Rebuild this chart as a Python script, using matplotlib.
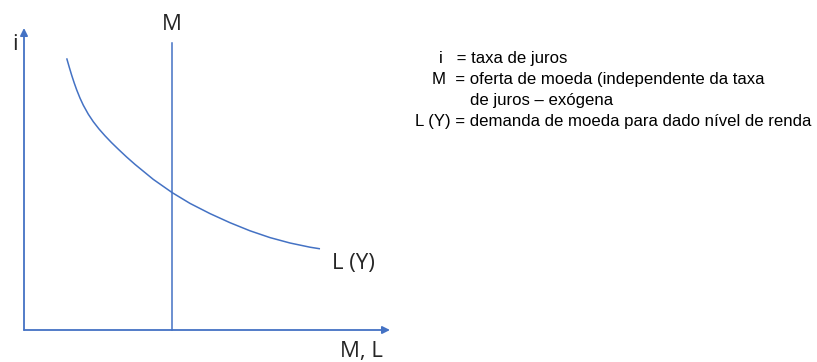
import matplotlib.pyplot as plt

# schematic units: origin of the i / (M, L) axes at (0, 0)
curve_x = [42.7, 45.2, 47.7, 50.2, 52.7, 56, 59.3, 64.3, 69.3, 75, 81, 87.5,
           94.3, 102.5, 111, 129.3, 148.3, 166, 186, 206, 226, 246, 266, 286,
           296]
curve_y = [271.7, 263, 254.7, 247.1, 240.1, 231.9, 224.8, 215.8, 208.3, 201,
           194.2, 187.4, 180.8, 173.1, 165.6, 150.6, 137.3, 126.6, 116.4,
           107.3, 99.2, 92.4, 87, 82.8, 81.2]
money_supply = 148
supply_top = 287
axis_x_end = 366
axis_y_end = 302

legend_lines = [
    "i   = taxa de juros",
    "M  = oferta de moeda (independente da taxa",
    "de juros \u2013 ex\u00f3gena",
    "L (Y) = demanda de moeda para dado n\u00edvel de renda",
]
legend_x = [415, 408, 446, 391]

BLUE = "#4472C4"
TEXT = "#262626"

fig = plt.figure(figsize=(8.17, 3.62), dpi=100)
ax = fig.add_axes([0, 0, 1, 1])
ax.set_xlim(-24, 793)
ax.set_ylim(-32, 330)
ax.axis("off")

arrow = dict(arrowstyle="-|>", color=BLUE, lw=1.3, mutation_scale=11,
             shrinkA=0, shrinkB=0)
ax.annotate("", xy=(0, axis_y_end), xytext=(0, 0), arrowprops=arrow)
ax.annotate("", xy=(axis_x_end, 0), xytext=(0, 0), arrowprops=arrow)

ax.plot([money_supply, money_supply], [0, supply_top], color=BLUE, lw=1.1)
ax.plot(curve_x, curve_y, color=BLUE, lw=1.1, solid_joinstyle="round",
        solid_capstyle="butt")

label_font = dict(family="Open Sans", fontsize=16, color=TEXT)
ax.text(-9, 285, "i", ha="center", va="center", **label_font)
ax.text(money_supply, 306, "M", ha="center", va="center", **label_font)
ax.text(329, 66, "L (Y)", ha="center", va="center", **label_font)
ax.text(337, -22, "M, L", ha="center", va="center", **label_font)

for k, (line, x) in enumerate(zip(legend_lines, legend_x)):
    ax.text(x, 271 - 20.7 * k, line, ha="left", va="center",
            family="Liberation Sans", fontsize=12.1, color="black")

fig.savefig("out.png", dpi=100)
